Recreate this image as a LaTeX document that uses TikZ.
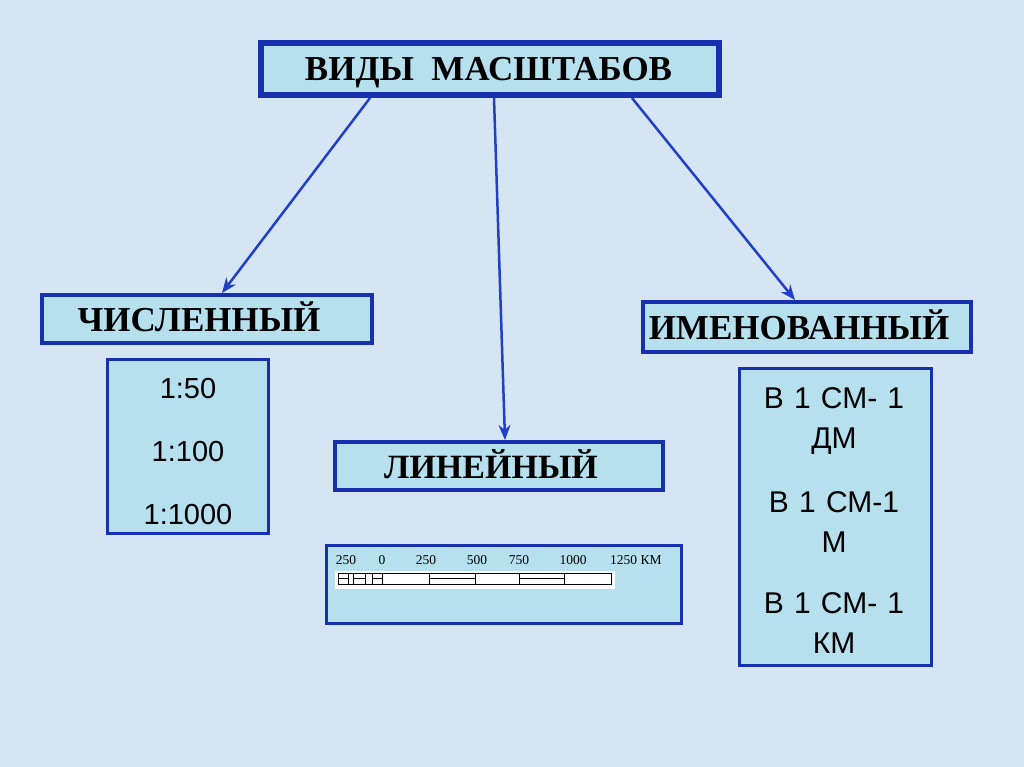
\documentclass[tikz,border=0pt]{standalone}
\usepackage{fontspec}
\setmainfont{Liberation Serif}
\setsansfont{Liberation Sans}
\usetikzlibrary{arrows.meta}
\definecolor{bgblue}{RGB}{214,229,244}
\definecolor{boxfill}{RGB}{182,224,238}
\definecolor{frameblue}{RGB}{22,48,176}
\definecolor{arrowblue}{RGB}{32,64,200}
\newcommand{\widespaces}{\spaceskip=0.34em\relax}

\begin{document}
\begin{tikzpicture}[x=1pt, y=-1pt, >={Stealth[length=15pt,width=12pt]},
  headbox/.style={draw=frameblue, fill=boxfill, line width=4pt, inner sep=0pt, text height=24pt, text depth=0pt, font=\bfseries\fontsize{35}{38}\selectfont},
  listbox/.style={draw=frameblue, fill=boxfill, line width=3pt, inner sep=0pt},
  listtext/.style={align=center, inner sep=0pt, font=\sffamily\fontsize{29}{40}\selectfont},
  tick/.style={anchor=base, inner sep=0pt, font=\fontsize{13.5}{14}\selectfont},
  link/.style={->, draw=arrowblue, line width=2.5pt}]
\useasboundingbox (0,0) rectangle (1024,767);
\fill[bgblue] (0,0) rectangle (1024,767);

% heading and the three kinds
\node[headbox, line width=6pt, minimum width=458pt, minimum height=52pt] (kinds) at (490,69) {ВИДЫ \ МАСШТАБОВ\hspace*{3pt}};
\node[headbox, minimum width=330pt, minimum height=48pt] (num) at (207,319) {ЧИСЛЕННЫЙ\hspace*{16pt}};
\node[headbox, minimum width=328pt, minimum height=48pt, font=\bfseries\fontsize{34}{38}\selectfont] (lin) at (499,466) {ЛИНЕЙНЫЙ\hspace*{16pt}};
\node[headbox, minimum width=328pt, minimum height=50pt] (named) at (807,327) {ИМЕНОВАННЫЙ\hspace*{16pt}};

% examples
\node[listbox, minimum width=161pt, minimum height=174pt] (numlist) at (188,446) {};
\node[listtext, font=\sffamily\fontsize{29}{63}\selectfont] (numtext) at (188,452) {1:50\\1:100\\1:1000};
\node[listbox, minimum width=192pt, minimum height=297pt] (namedlist) at (835.5,517) {};
\node[listtext, font=\sffamily\fontsize{30}{40}\selectfont\widespaces] (namedtext) at (834,521) {В 1 СМ- 1\\ДМ\\[24pt]В 1 СМ-1\\М\\[21pt]В 1 СМ- 1\\КМ};
\node[listbox, minimum width=355pt, minimum height=78pt] (linbar) at (504,584.5) {};

% scale bar
\fill[white] (335,571) rectangle (615,589);
\draw[line width=0.8pt] (338,573) rectangle (611,584);
\foreach \x in {348,353,365,372,382,429,475,519,564}
  \draw[line width=0.8pt] (\x,573) -- (\x,584);
\foreach \a/\b in {338/348,353/365,372/382,429/475,519/564}
  \draw[line width=0.8pt] (\a,578.5) -- (\b,578.5);
\foreach \x/\t in {346/250,382/0,426/250,477/500,519/750,573/1000}
  \node[tick] (t\x) at (\x,564) {\t};
\node[tick, anchor=base west] (tkm) at (610,564) {1250 КМ};

% connectors
\draw[link] ([xshift=-120pt]kinds.south) -- ([xshift=15pt]num.north);
\draw[link] ([xshift=4pt]kinds.south) -- ([xshift=6pt]lin.north);
\draw[link] ([xshift=142pt]kinds.south) -- ([xshift=-12pt]named.north);
\end{tikzpicture}
\end{document}
